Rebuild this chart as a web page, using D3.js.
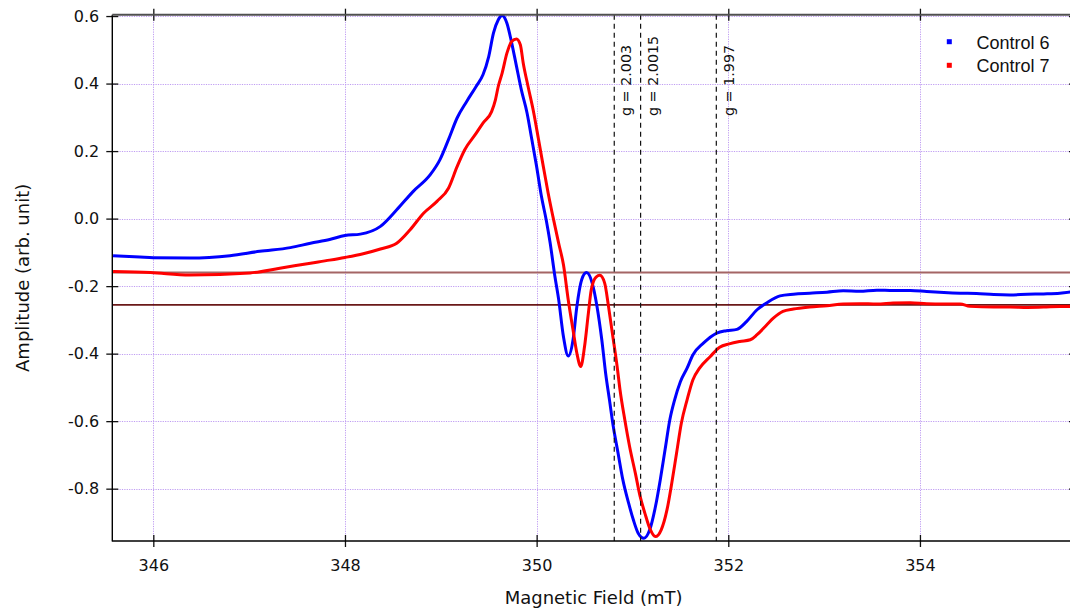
<!DOCTYPE html>
<html>
<head>
<meta charset="utf-8">
<script src="https://cdn.jsdelivr.net/npm/d3@7"></script>
<style>
  html, body { margin: 0; padding: 0; background: #fff; }
  svg { display: block; }
</style>
</head>
<body>
<svg id="chart" width="1070" height="609"></svg>
<script>
// ---------------- data ----------------
const seriesNames = ["Control 6", "Control 7"];

const field6 = [345.58, 345.86, 346.00, 346.38, 346.80, 347.11, 347.43, 347.64, 347.84, 348.00,
  348.16, 348.37, 348.54, 348.71, 348.89, 348.99, 349.08, 349.17, 349.27, 349.37,
  349.44, 349.50, 349.55, 349.60, 349.64, 349.69, 349.74, 349.79, 349.84, 349.90,
  349.95, 350.00, 350.05, 350.10, 350.14, 350.19, 350.23, 350.28, 350.33, 350.38,
  350.42, 350.47, 350.52, 350.58, 350.63, 350.68, 350.72, 350.76, 350.80, 350.85,
  350.90, 350.96, 351.01, 351.06, 351.12, 351.18, 351.24, 351.29, 351.34, 351.39,
  351.44, 351.50, 351.57, 351.63, 351.74, 351.88, 351.98, 352.09, 352.19, 352.30,
  352.40, 352.54, 352.68, 352.85, 353.03, 353.20, 353.37, 353.55, 353.72, 353.90,
  354.07, 354.25, 354.42, 354.59, 354.77, 354.94, 355.12, 355.29, 355.46, 355.57];
const amp6 = [-0.110, -0.114, -0.116, -0.117, -0.110, -0.097, -0.086, -0.073, -0.062, -0.050,
  -0.046, -0.023, 0.026, 0.080, 0.130, 0.174, 0.234, 0.298, 0.347, 0.392,
  0.426, 0.480, 0.550, 0.589, 0.602, 0.579, 0.520, 0.451, 0.382, 0.313,
  0.234, 0.154, 0.066, -0.004, -0.070, -0.170, -0.240, -0.350, -0.407, -0.359,
  -0.260, -0.181, -0.160, -0.191, -0.260, -0.359, -0.458, -0.537, -0.616, -0.695,
  -0.774, -0.843, -0.893, -0.932, -0.947, -0.922, -0.853, -0.774, -0.685, -0.596,
  -0.537, -0.483, -0.443, -0.404, -0.369, -0.339, -0.332, -0.328, -0.305, -0.270,
  -0.250, -0.229, -0.224, -0.221, -0.218, -0.214, -0.215, -0.212, -0.213, -0.213,
  -0.216, -0.219, -0.221, -0.222, -0.225, -0.226, -0.224, -0.223, -0.221, -0.217];

const field7 = [345.58, 345.97, 346.38, 347.01, 347.32, 347.64, 347.84, 348.00, 348.19, 348.37,
  348.54, 348.68, 348.82, 348.96, 349.08, 349.17, 349.25, 349.37, 349.44, 349.53,
  349.57, 349.60, 349.64, 349.69, 349.74, 349.79, 349.83, 349.86, 349.91, 349.97,
  350.02, 350.07, 350.12, 350.17, 350.23, 350.28, 350.33, 350.38, 350.42, 350.46,
  350.50, 350.54, 350.57, 350.62, 350.66, 350.71, 350.75, 350.79, 350.84, 350.87,
  350.92, 350.97, 351.03, 351.08, 351.13, 351.18, 351.24, 351.30, 351.36, 351.41,
  351.46, 351.51, 351.57, 351.63, 351.70, 351.81, 351.91, 352.01, 352.12, 352.23,
  352.30, 352.40, 352.47, 352.57, 352.68, 352.85, 353.03, 353.20, 353.37, 353.55,
  353.72, 353.90, 354.07, 354.25, 354.42, 354.52, 354.77, 354.94, 355.12, 355.29,
  355.46, 355.57];
const amp7 = [-0.157, -0.160, -0.167, -0.161, -0.147, -0.132, -0.123, -0.115, -0.104, -0.090,
  -0.073, -0.033, 0.016, 0.051, 0.090, 0.154, 0.204, 0.253, 0.283, 0.317,
  0.352, 0.392, 0.431, 0.490, 0.525, 0.532, 0.515, 0.461, 0.392, 0.313,
  0.234, 0.154, 0.076, 0.006, -0.073, -0.137, -0.241, -0.330, -0.399, -0.438,
  -0.379, -0.280, -0.211, -0.173, -0.168, -0.191, -0.260, -0.339, -0.438, -0.507,
  -0.596, -0.675, -0.754, -0.823, -0.873, -0.917, -0.942, -0.922, -0.863, -0.784,
  -0.695, -0.606, -0.537, -0.478, -0.443, -0.409, -0.381, -0.371, -0.364, -0.359,
  -0.344, -0.315, -0.295, -0.275, -0.268, -0.262, -0.258, -0.253, -0.252, -0.253,
  -0.250, -0.249, -0.252, -0.253, -0.253, -0.260, -0.262, -0.262, -0.263, -0.262,
  -0.260, -0.260];

const baselineLevels = [-0.160, -0.2555];
const gFields = [350.81, 351.085, 351.875];
const gLabels = ["g = 2.003", "g = 2.0015", "g = 1.997"];

const xTicks = [346, 348, 350, 352, 354];
const xTickLabels = ["346", "348", "350", "352", "354"];
const yTicks = [-0.8, -0.6, -0.4, -0.2, 0.0, 0.2, 0.4, 0.6];
const yTickLabels = ["-0.8", "-0.6", "-0.4", "-0.2", "0.0", "0.2", "0.4", "0.6"];

// ---------------- layout ----------------
const L = 112.3, R = 1075, T = 14.7, B = 541;
const svg = d3.select("#chart");
const x = d3.scaleLinear().domain([345.572, 355.618]).range([L, R]);
const y = d3.scaleLinear().domain([-0.955, 0.604]).range([B, T]);

svg.append("defs").append("clipPath").attr("id", "clip")
  .append("rect").attr("x", L).attr("y", T).attr("width", R - L).attr("height", B - T);

// grid
const grid = svg.append("g").attr("stroke", "#b58cf0").attr("stroke-width", 1)
  .attr("stroke-dasharray", "1.2,1.2").attr("opacity", 0.85);
grid.selectAll("line.gx").data(xTicks).join("line").attr("class", "gx")
  .attr("x1", d => Math.round(x(d)) + 0.5).attr("x2", d => Math.round(x(d)) + 0.5)
  .attr("y1", T).attr("y2", B);
grid.selectAll("line.gy").data(yTicks).join("line").attr("class", "gy")
  .attr("y1", d => Math.round(y(d)) + 0.5).attr("y2", d => Math.round(y(d)) + 0.5)
  .attr("x1", L).attr("x2", R);

// baselines
const baseColors = ["#a46565", "#6a1818"];
const baseWidths = [2, 1.6];
svg.append("g").selectAll("line").data(baselineLevels).join("line")
  .attr("x1", L).attr("x2", R)
  .attr("y1", d => y(d)).attr("y2", d => y(d))
  .attr("stroke", (d, i) => baseColors[i]).attr("stroke-width", (d, i) => baseWidths[i]);

// curves
const plot = svg.append("g").attr("clip-path", "url(#clip)");
const series = [
  { f: field6, a: amp6, color: "#0000ff" },
  { f: field7, a: amp7, color: "#ff0000" }
];
const line = d3.line().x(d => x(d[0])).y(d => y(d[1])).curve(d3.curveMonotoneX);
series.forEach(s => {
  const pts = s.f.map((f, i) => [f, s.a[i]]);
  plot.append("path").attr("d", line(pts)).attr("fill", "none")
    .attr("stroke", s.color).attr("stroke-width", 3).attr("stroke-linejoin", "round");
});

// dashed g-lines
const gl = svg.append("g");
gl.selectAll("line").data(gFields).join("line")
  .attr("x1", d => x(d)).attr("x2", d => x(d)).attr("y1", T).attr("y2", B)
  .attr("stroke", "#111").attr("stroke-width", 1.2).attr("stroke-dasharray", "5,4");
gl.selectAll("text").data(gFields).join("text")
  .attr("transform", d => `translate(${x(d) + 17.2},116) rotate(-90)`)
  .attr("font-family", "DejaVu Sans").attr("font-size", 14.3).attr("fill", "#111")
  .text((d, i) => gLabels[i]);

// axes
const fontAxis = "DejaVu Sans";
const axL = d3.axisLeft(y).tickValues(yTicks).tickSizeInner(6).tickSizeOuter(0).tickPadding(7)
  .tickFormat((d, i) => yTickLabels[i]);
const gL = svg.append("g").attr("transform", `translate(${L},0)`).call(axL);
const axLin = d3.axisRight(y).tickValues(yTicks).tickSizeInner(6).tickSizeOuter(0).tickFormat("");
svg.append("g").attr("transform", `translate(${L},0)`).call(axLin).select(".domain").remove();

const axB = d3.axisBottom(x).tickValues(xTicks).tickSizeInner(6).tickSizeOuter(0).tickPadding(12.5)
  .tickFormat((d, i) => xTickLabels[i]);
const gB = svg.append("g").attr("transform", `translate(0,${B})`).call(axB);
const axBin = d3.axisTop(x).tickValues(xTicks).tickSizeInner(6).tickSizeOuter(0).tickFormat("");
svg.append("g").attr("transform", `translate(0,${B})`).call(axBin).select(".domain").remove();

// top axis ticks (crossing)
const axT1 = d3.axisTop(x).tickValues(xTicks).tickSizeInner(6).tickSizeOuter(0).tickFormat("");
const axT2 = d3.axisBottom(x).tickValues(xTicks).tickSizeInner(6).tickSizeOuter(0).tickFormat("");
svg.append("g").attr("transform", `translate(0,${T})`).call(axT1).select(".domain").remove();
svg.append("g").attr("transform", `translate(0,${T})`).call(axT2).select(".domain").remove();
// right axis ticks
const axR1 = d3.axisLeft(y).tickValues(yTicks).tickSizeInner(6).tickSizeOuter(0).tickFormat("");
svg.append("g").attr("transform", `translate(${R},0)`).call(axR1).select(".domain").remove();

[gL, gB].forEach(g => {
  g.select(".domain").remove();
  g.selectAll("text").attr("font-family", fontAxis).attr("font-size", 16).attr("fill", "#111");
});
svg.selectAll(".tick line").attr("stroke", "#111").attr("stroke-width", 1.3);

// frame lines
svg.append("line").attr("x1", L).attr("x2", L).attr("y1", T).attr("y2", B + 0.6)
  .attr("stroke", "#000").attr("stroke-width", 1.4);
svg.append("line").attr("x1", L).attr("x2", R).attr("y1", B).attr("y2", B)
  .attr("stroke", "#000").attr("stroke-width", 1.4);
svg.append("line").attr("x1", L).attr("x2", R).attr("y1", T).attr("y2", T)
  .attr("stroke", "#505050").attr("stroke-width", 2);

// axis titles
svg.append("text").attr("x", (L + R) / 2).attr("y", 604).attr("text-anchor", "middle")
  .attr("font-family", fontAxis).attr("font-size", 18).attr("fill", "#111")
  .text("Magnetic Field (mT)");
svg.append("text").attr("transform", `translate(28.7,${(T + B) / 2}) rotate(-90)`)
  .attr("text-anchor", "middle")
  .attr("font-family", fontAxis).attr("font-size", 18).attr("fill", "#111")
  .text("Amplitude (arb. unit)");

// legend
const legColors = ["#0000ff", "#ff0000"];
const leg = svg.append("g");
const legY = [41.7, 65.3];
seriesNames.forEach((name, i) => {
  leg.append("rect").attr("x", 949.3 - 2.5).attr("y", legY[i] - 2.5).attr("width", 5).attr("height", 5)
    .attr("fill", legColors[i]);
  leg.append("text").attr("x", 976.5).attr("y", legY[i] + 7)
    .attr("font-family", "Liberation Sans").attr("font-size", 18).attr("fill", "#111")
    .text(name);
});
</script>
</body>
</html>
